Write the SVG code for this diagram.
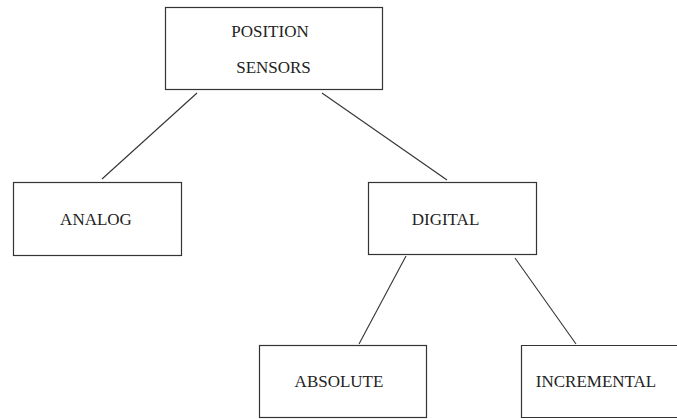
<svg xmlns="http://www.w3.org/2000/svg" width="677" height="419" viewBox="0 0 677 419">
  <style>
    .box { fill: #ffffff; stroke: #333333; stroke-width: 1.2; }
    .link { stroke: #333333; stroke-width: 1.1; fill: none; }
    .label { font-size: 17px; fill: #222222; text-anchor: middle; }
  </style>
  <rect width="677" height="419" fill="#ffffff"/>

  <g id="connectors">
    <line class="link" x1="197" y1="93" x2="102" y2="179"/>
    <line class="link" x1="322" y1="93" x2="447" y2="180"/>
    <line class="link" x1="406" y1="256" x2="359" y2="344"/>
    <line class="link" x1="515" y1="258" x2="576" y2="344"/>
  </g>

  <g font-family="Liberation Serif, DejaVu Serif, serif">
    <g id="position-sensors">
      <rect class="box" x="165.5" y="7.5" width="217" height="82"/>
      <text class="label" x="270" y="37">POSITION</text>
      <text class="label" x="273.5" y="73">SENSORS</text>
    </g>

    <g id="analog">
      <rect class="box" x="13.5" y="182.5" width="168" height="73"/>
      <text class="label" x="96" y="225">ANALOG</text>
    </g>

    <g id="digital">
      <rect class="box" x="368.5" y="182.5" width="168" height="72"/>
      <text class="label" x="445.5" y="225">DIGITAL</text>
    </g>

    <g id="absolute">
      <rect class="box" x="259.5" y="345.5" width="167" height="72"/>
      <text class="label" x="339" y="387">ABSOLUTE</text>
    </g>

    <g id="incremental">
      <path class="box" d="M677 345.5 H521.5 V417.5 H677"/>
      <text class="label" x="596" y="387">INCREMENTAL</text>
    </g>
  </g>
</svg>
